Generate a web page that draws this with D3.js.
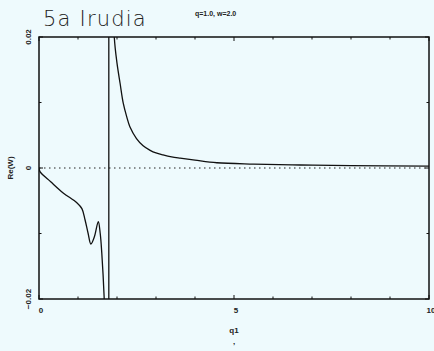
<!DOCTYPE html>
<meta charset="utf-8">
<style>
body { margin: 0; background: #eefafd; }
svg { display: block; background: #eefafd; }
.tick-lbl { font-family: "Liberation Sans", Arial, sans-serif; font-weight: bold; font-size: 8px; fill: #222; }
</style>

<svg width="434" height="351"></svg>

<script src="https://d3js.org/d3.v7.min.js"></script>
<script>

// curve (q1, Re(W)); the pole near q1=1.79 runs off both edges
var q1 = [0, 0.03, 0.3, 0.62, 0.97, 1.1, 1.18, 1.26, 1.33, 1.42, 1.52, 1.57, 1.61, 1.67, 1.72, 1.79,
          1.79, 1.90, 1.93, 2.00, 2.08, 2.16, 2.25, 2.33, 2.50, 2.67, 2.85, 3.0, 3.18, 3.4, 3.62, 4.0, 4.56, 5.5, 6.7, 8.0, 10];
var reW = [0, -0.0006, -0.0021, -0.0038, -0.0053, -0.0062, -0.0079, -0.0100, -0.0116, -0.0105, -0.0082, -0.0100, -0.0130, -0.0197, -0.03, -0.2,
          0.2, 0.03, 0.02, 0.0160, 0.0129, 0.0099, 0.0078, 0.0063, 0.0045, 0.0034, 0.0027, 0.0023, 0.0020, 0.0017, 0.0015, 0.0012, 0.0008, 0.0006, 0.00046, 0.00035, 0.0003];

var xTicks = [0, 5, 10];
var xMinor = [1, 2, 3, 4, 6, 7, 8, 9];
var yTicks = [-0.02, 0, 0.02];
var yMinor = [-0.01, 0.01];

var svg = d3.select("svg");
var pl = 39, pr = 429, pt = 37, pb = 299;

var x = d3.scaleLinear().domain([0, 10]).range([pl, pr]);
var y = d3.scaleLinear().domain([-0.02, 0.02]).range([pb, pt]);

svg.append("clipPath").attr("id", "clip")
  .append("rect").attr("x", pl).attr("y", pt).attr("width", pr - pl).attr("height", pb - pt);

// zero line, dotted
svg.append("line")
    .attr("x1", pl).attr("x2", pr)
    .attr("y1", y(0)).attr("y2", y(0))
    .attr("stroke", "#222").attr("stroke-width", 1.2)
    .attr("stroke-dasharray", "1.5,3.5");

var pts = q1.map((d, i) => [d, reW[i]]);
var pole = 15; // last point of the left branch
var branches = [pts.slice(0, pole + 1), pts.slice(pole, pole + 2), pts.slice(pole + 1)];

var smooth = d3.line().x(d => x(d[0])).y(d => y(d[1])).curve(d3.curveCatmullRom);
var straight = d3.line().x(d => x(d[0])).y(d => y(d[1]));

svg.append("g")
    .attr("clip-path", "url(#clip)")
  .selectAll("path")
  .data(branches)
  .enter().append("path")
    .attr("fill", "none")
    .attr("stroke", "#111")
    .attr("stroke-width", 1.3)
    .attr("d", (d, i) => i === 1 ? straight(d) : smooth(d));

// frame
svg.append("rect")
    .attr("x", pl).attr("y", pt)
    .attr("width", pr - pl).attr("height", pb - pt)
    .attr("fill", "none").attr("stroke", "#111").attr("stroke-width", 1.5);

// ticks pointing inwards
var g = svg.append("g").attr("stroke", "#111").attr("stroke-width", 1);
xMinor.concat(xTicks).forEach(function(t) {
  var len = xTicks.indexOf(t) >= 0 ? 4 : 2.5;
  g.append("line").attr("x1", x(t)).attr("x2", x(t)).attr("y1", pb).attr("y2", pb - len);
  g.append("line").attr("x1", x(t)).attr("x2", x(t)).attr("y1", pt).attr("y2", pt + len);
});
yMinor.concat(yTicks).forEach(function(t) {
  var len = yTicks.indexOf(t) >= 0 ? 4 : 2.5;
  g.append("line").attr("x1", pl).attr("x2", pl + len).attr("y1", y(t)).attr("y2", y(t));
  g.append("line").attr("x1", pr).attr("x2", pr - len).attr("y1", y(t)).attr("y2", y(t));
});

// x tick labels
svg.selectAll(".xl").data(xTicks).enter().append("text")
    .attr("class", "tick-lbl")
    .attr("x", d => x(d) + 2)
    .attr("y", pb + 14)
    .attr("text-anchor", "middle")
    .text(d => d);

// y tick labels, rotated
svg.selectAll(".yl").data(yTicks).enter().append("text")
    .attr("class", "tick-lbl")
    .attr("transform", d => "translate(" + (pl - 8) + "," + y(d) + ") rotate(-90)")
    .attr("text-anchor", "middle")
    .text(d => d === 0 ? "0" : d3.format(".2f")(d).replace("-", "\u2212"));

// axis titles
svg.append("text").attr("class", "tick-lbl")
    .attr("x", x(5)).attr("y", 333)
    .attr("text-anchor", "middle").text("q1");
svg.append("text").attr("class", "tick-lbl")
    .attr("x", x(5)).attr("y", 344)
    .attr("text-anchor", "middle").text(",");
svg.append("text").attr("class", "tick-lbl")
    .attr("transform", "translate(13," + y(0) + ") rotate(-90)")
    .attr("text-anchor", "middle").text("Re(W)");

// titles
svg.append("text")
    .attr("x", 43).attr("y", 26)
    .attr("font-family", "DejaVu Sans, sans-serif")
    .attr("font-weight", 200)
    .attr("font-size", 21)
    .attr("letter-spacing", 1.2)
    .attr("fill", "#222")
    .text("5a Irudia");
svg.append("text").attr("class", "tick-lbl")
    .attr("x", 195).attr("y", 16)
    .style("font-size", "7px")
    .text("q=1.0, w=2.0");

</script>
